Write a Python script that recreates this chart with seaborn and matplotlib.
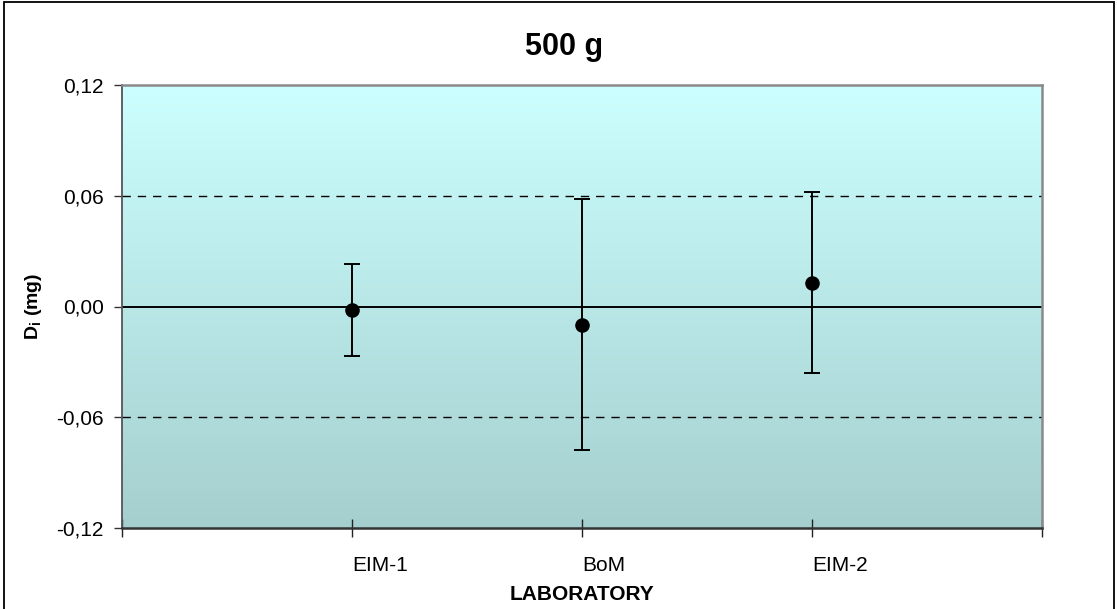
import numpy as np
import matplotlib
matplotlib.use("Agg")
import matplotlib.pyplot as plt
import matplotlib.transforms as mtransforms
from matplotlib.patches import Rectangle
from matplotlib.ticker import FuncFormatter
import seaborn as sns

# Laboratory results for the 500 g weight
labs = ["EIM-1", "BoM", "EIM-2"]
di_mg = [-0.002, -0.010, 0.013]
u_mg = [0.025, 0.068, 0.049]
y_ticks = [-0.12, -0.06, 0.00, 0.06, 0.12]
limit = 0.06

sns.set_theme(style="white")
plt.rcParams["font.family"] = ["Liberation Sans", "DejaVu Sans"]
plt.rcParams.update({"text.color": "black", "axes.labelcolor": "black",
                     "xtick.color": "black", "ytick.color": "black"})

fig = plt.figure(figsize=(11.17, 6.09), dpi=100)
ax = fig.add_axes([122 / 1117, 1 - 528 / 609, (1042 - 122) / 1117, (528 - 85) / 609])

pos = np.arange(1, len(labs) + 1)
x_lo, x_hi = 0, len(labs) + 1
y_lo, y_hi = y_ticks[0], y_ticks[-1]

# vertical gradient background of the plot area
top = np.array([204, 255, 255]) / 255
bot = np.array([165, 207, 206]) / 255
t = np.linspace(0, 1, 256)[:, None]
grad = (top * (1 - t) + bot * t)[:, None, :]
ax.imshow(grad, extent=[x_lo, x_hi, y_lo, y_hi], aspect="auto", zorder=0,
          interpolation="bilinear")

ax.axhline(0, color="black", lw=1.4, zorder=1)
for yv in (-limit, limit):
    ax.axhline(yv, color="black", lw=1.0, ls=(0, (6, 5)), zorder=1)

ax.errorbar(pos, di_mg, yerr=u_mg, fmt="none", ecolor="black", elinewidth=1.4,
            capsize=5.5, capthick=1.4, zorder=2)
sns.scatterplot(x=pos, y=di_mg, ax=ax, color="black", s=110, edgecolor="black",
                linewidth=0, zorder=3, legend=False)

ax.set_xlim(x_lo, x_hi)
ax.set_ylim(y_lo, y_hi)
ax.set_yticks(y_ticks)
ax.yaxis.set_major_formatter(FuncFormatter(lambda v, p: f"{v:.2f}".replace(".", ",")))
ax.set_xticks(np.arange(x_lo, x_hi + 1))
ax.set_xticklabels([""] + labs + [""], ha="left")
offset = mtransforms.ScaledTranslation(0.03, 0, fig.dpi_scale_trans)
for lab in ax.get_xticklabels():
    lab.set_transform(lab.get_transform() + offset)

ax.tick_params(axis="y", direction="out", length=6, width=1.0, color="#333333",
               labelsize=15, pad=7, left=True)
ax.tick_params(axis="x", direction="inout", length=13, width=1.0, color="#222222",
               labelsize=15, pad=14, bottom=True)

for side in ("top", "right"):
    ax.spines[side].set_color("#8a8a8a")
    ax.spines[side].set_linewidth(1.8)
ax.spines["left"].set_color("#555555")
ax.spines["left"].set_linewidth(1.3)
ax.spines["bottom"].set_color("#333333")
ax.spines["bottom"].set_linewidth(1.8)

ax.set_xlabel("LABORATORY", fontsize=15, fontweight="bold", labelpad=7)
ax.set_ylabel(r"D$_\mathregular{i}$ (mg)", fontsize=14, fontweight="bold")
ax.yaxis.set_label_coords((44 - 122) / 920, 0.5)

fig.text(564 / 1117, 1 - 47 / 609, "500 g", fontsize=22, fontweight="bold",
         ha="center", va="center")

# chart border
fig.patches.append(Rectangle((3.5 / 1117, -0.02), 1110 / 1117, 1.02 - 1.5 / 609,
                             transform=fig.transFigure, fill=False,
                             edgecolor="black", lw=1.3))

fig.savefig("out.png", dpi=100)
